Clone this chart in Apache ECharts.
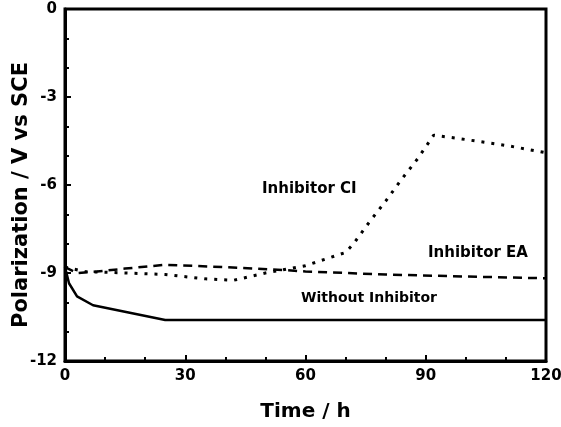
<!DOCTYPE html>
<html>
<head>
<meta charset="UTF-8">
<script src="https://cdn.jsdelivr.net/npm/echarts@6/dist/echarts.min.js"></script>
<style>
  html, body { margin: 0; padding: 0; background: #fff; }
  #main { width: 561px; height: 427px; }
</style>
</head>
<body>
<div id="main"></div>
<script>
// data: [time h, polarization]
var withoutInhibitor = [[0, -8.8], [1, -9.35], [3, -9.8], [7, -10.1], [25, -10.6], [120, -10.6]];
var inhibitorEA = [[0, -8.8], [3, -9.0], [8, -8.95], [15, -8.85], [25, -8.72], [40, -8.8],
  [55, -8.9], [60, -8.95], [80, -9.05], [100, -9.12], [120, -9.18]];
var inhibitorCI = [[0, -8.8], [5, -8.95], [15, -9.0], [25, -9.05], [35, -9.2], [42, -9.25],
  [50, -9.0], [60, -8.75], [70, -8.3], [72, -8.0], [76, -7.25], [80, -6.55], [84, -5.8],
  [88, -5.1], [92, -4.3], [100, -4.45], [110, -4.65], [120, -4.9]];
var seriesNames = ['Without Inhibitor', 'Inhibitor EA', 'Inhibitor CI'];

var myChart = echarts.init(document.getElementById('main'));
var fontFam = '"DejaVu Sans", Arial, sans-serif';
var labelStyle = { fontFamily: fontFam, fontWeight: 'bold', fontSize: 15, color: '#000' };
var nameStyle = { fontFamily: fontFam, fontWeight: 'bold', color: '#000' };

// major ticks + labels on one axis, minor ticks on a second hidden axis at the same place
var option = {
  animation: false,
  backgroundColor: '#fff',
  grid: { left: 65, right: 15, top: 9, bottom: 66, containLabel: false, outerBoundsMode: 'none',
    show: true, borderColor: '#000', borderWidth: 3 },
  xAxis: [{
    type: 'value', min: 0, max: 120, interval: 30, position: 'bottom',
    name: 'Time / h', nameLocation: 'middle', nameGap: 41, nameMoveOverlap: false,
    nameTextStyle: Object.assign({ fontSize: 20 }, nameStyle),
    axisLine: { onZero: false, lineStyle: { color: '#000', width: 3 } },
    axisTick: { inside: true, length: 6, lineStyle: { color: '#000', width: 2 } },
    splitLine: { show: false },
    axisLabel: Object.assign({ margin: 8 }, labelStyle)
  }, {
    type: 'value', min: 0, max: 120, interval: 10, position: 'bottom',
    axisLine: { show: false, onZero: false },
    axisTick: { inside: true, length: 4, lineStyle: { color: '#000', width: 2 } },
    splitLine: { show: false },
    axisLabel: { show: false }
  }],
  yAxis: [{
    type: 'value', min: -12, max: 0, interval: 3, position: 'left',
    name: 'Polarization / V vs SCE', nameLocation: 'middle', nameGap: 33, nameMoveOverlap: false,
    nameTextStyle: Object.assign({ fontSize: 21, padding: [0, 20, 0, 0] }, nameStyle),
    axisLine: { onZero: false, lineStyle: { color: '#000', width: 3 } },
    axisTick: { inside: true, length: 6, lineStyle: { color: '#000', width: 2 } },
    splitLine: { show: false },
    axisLabel: Object.assign({ margin: 8 }, labelStyle)
  }, {
    type: 'value', min: -12, max: 0, interval: 1, position: 'left',
    axisLine: { show: false, onZero: false },
    axisTick: { inside: true, length: 4, lineStyle: { color: '#000', width: 2 } },
    splitLine: { show: false },
    axisLabel: { show: false }
  }],
  series: [
    { name: seriesNames[0], type: 'line', data: withoutInhibitor, showSymbol: false,
      lineStyle: { color: '#000', width: 2.5, type: 'solid' } },
    { name: seriesNames[1], type: 'line', data: inhibitorEA, showSymbol: false,
      lineStyle: { color: '#000', width: 2.5, type: [9, 6] } },
    { name: seriesNames[2], type: 'line', data: inhibitorCI, showSymbol: false,
      lineStyle: { color: '#000', width: 3, type: [3, 7], cap: 'butt' } }
  ],
  graphic: [
    { type: 'text', left: 262, top: 182, style: { text: 'Inhibitor CI', font: 'bold 15px ' + fontFam, fill: '#000' } },
    { type: 'text', left: 428, top: 246, style: { text: 'Inhibitor EA', font: 'bold 15px ' + fontFam, fill: '#000' } },
    { type: 'text', left: 301, top: 291, style: { text: 'Without Inhibitor', font: 'bold 14px ' + fontFam, fill: '#000' } }
  ]
};

myChart.setOption(option);
</script>
</body>
</html>
